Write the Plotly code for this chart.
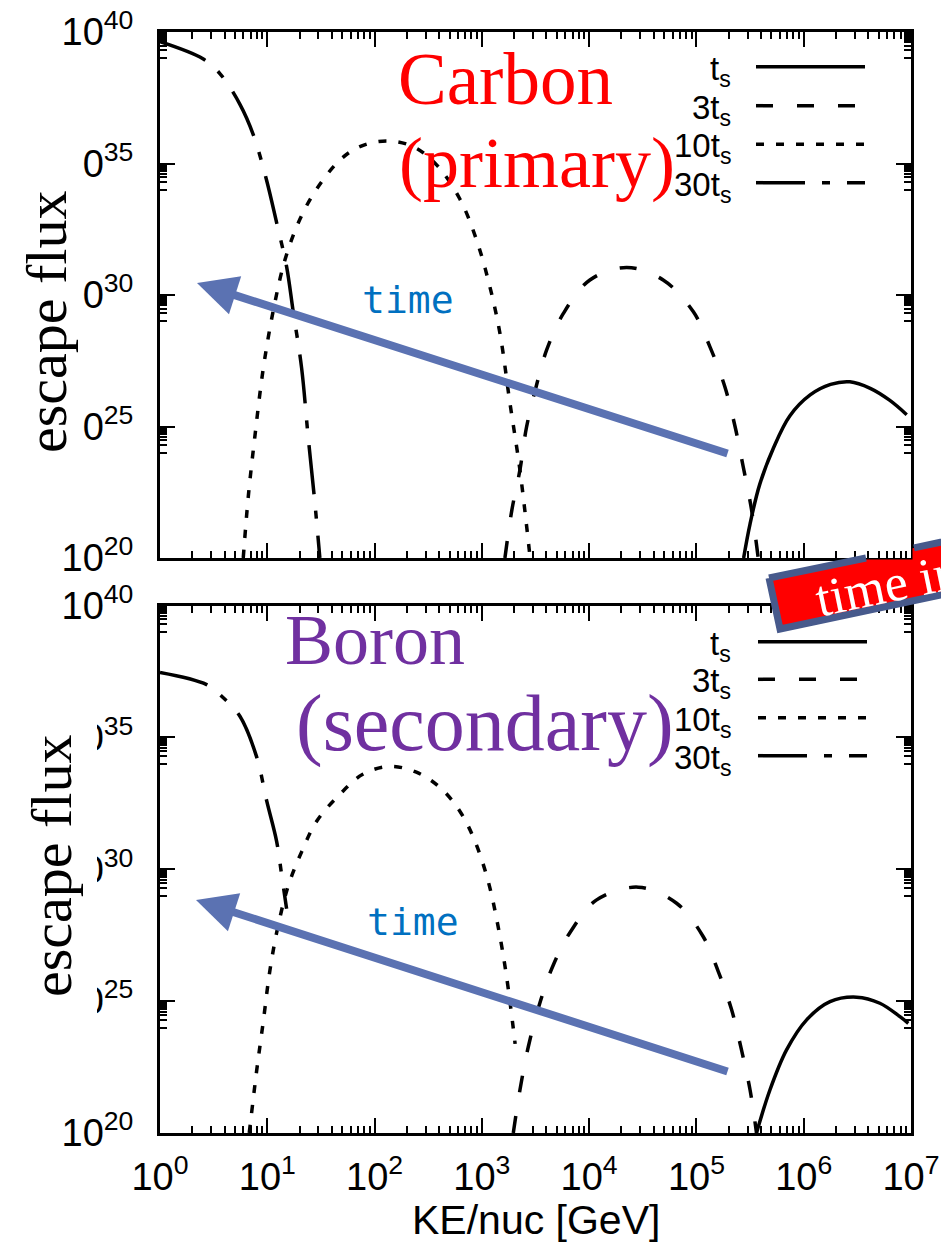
import plotly.graph_objects as go

# ---------------- data (log10 values) ----------------
# Carbon (primary) – top panel
c_ts_logE  = [5.44, 5.50, 5.59, 5.72, 5.87, 6.06, 6.25, 6.43, 6.62, 6.80, 6.96]
c_ts_logF  = [20.0, 21.3, 22.8, 24.2, 25.4, 26.2, 26.6, 26.7, 26.45, 26.0, 25.45]
c_3ts_logE = [3.215, 3.28, 3.355, 3.417, 3.51, 3.604, 3.76, 4.007, 4.35, 4.69, 4.97,
              5.126, 5.265, 5.36, 5.436, 5.514, 5.576]
c_3ts_logF = [20.0, 21.83, 23.35, 24.99, 26.58, 27.91, 29.30, 30.57, 31.05, 30.57, 29.37,
              28.03, 26.51, 25.0, 23.47, 21.83, 20.0]
c_10ts_logE = [0.776, 0.823, 0.885, 0.963, 1.056, 1.165, 1.304, 1.46, 1.677, 1.863, 2.11,
               2.36, 2.58, 2.795, 2.95, 3.075, 3.17, 3.26, 3.354, 3.45]
c_10ts_logF = [20.0, 22.34, 24.65, 27.22, 29.41, 31.34, 32.88, 34.03, 35.13, 35.64, 35.86,
               35.64, 34.94, 33.65, 32.1, 30.31, 28.51, 25.94, 23.37, 20.0]
c_30ts_logE = [0.0, 0.40, 0.56, 0.745, 0.87, 0.99, 1.087, 1.18, 1.24, 1.32, 1.38, 1.444, 1.49]
c_30ts_logF = [39.63, 38.98, 38.41, 37.25, 36.09, 34.42, 32.75, 31.08, 29.41, 27.22, 24.65, 22.08, 20.0]

# Boron (secondary) – bottom panel
b_ts_logE  = [5.56, 5.685, 5.84, 6.027, 6.245, 6.493, 6.71, 6.897, 6.975]
b_ts_logF  = [20.0, 21.63, 23.15, 24.29, 24.98, 25.15, 24.92, 24.41, 24.16]
b_3ts_logE = [3.293, 3.355, 3.433, 3.54, 3.666, 3.837, 4.07, 4.458, 4.815, 5.064, 5.204,
              5.328, 5.42, 5.5, 5.56]
b_3ts_logF = [20.0, 21.63, 23.27, 24.92, 26.37, 27.70, 28.84, 29.32, 28.71, 27.44, 26.12,
              24.67, 23.15, 21.63, 20.0]
b_10ts_logE = [0.832, 0.90, 0.963, 1.025, 1.10, 1.196, 1.32, 1.46, 1.677, 1.894, 2.143,
               2.39, 2.61, 2.795, 2.935, 3.06, 3.15, 3.23, 3.31]
b_10ts_logF = [20.0, 22.33, 24.24, 26.18, 27.84, 29.38, 30.66, 31.82, 32.84, 33.61, 33.9,
               33.68, 33.1, 32.2, 31.07, 29.53, 27.86, 25.94, 23.38]
b_30ts_logE = [0.0, 0.435, 0.59, 0.745, 0.90, 0.994, 1.087, 1.134, 1.18]
b_30ts_logF = [37.46, 37.0, 36.5, 35.8, 34.27, 32.6, 31.06, 29.78, 28.5]

series_names = ["t<sub>s</sub>", "3t<sub>s</sub>", "10t<sub>s</sub>", "30t<sub>s</sub>"]
x_tick_exp = [0, 1, 2, 3, 4, 5, 6, 7]
y_tick_exp = [20, 25, 30, 35, 40]

# ---------------- styling ----------------
W, H = 941, 1250
L, R, T, B = 160, 30, 32, 117
PW, PH = W - L - R, H - T - B

def px(x):
    return (x - L) / PW

def py(y):
    return (H - B - y) / PH

dashes = ["solid", "17px,24px", "8px,12px", "49px,17px,8px,17px"]
LW = 3.5
tickfont = dict(family="Liberation Sans", size=38, color="black")

fig = go.Figure()

top_sets = [(c_ts_logE, c_ts_logF), (c_3ts_logE, c_3ts_logF),
            (c_10ts_logE, c_10ts_logF), (c_30ts_logE, c_30ts_logF)]
bot_sets = [(b_ts_logE, b_ts_logF), (b_3ts_logE, b_3ts_logF),
            (b_10ts_logE, b_10ts_logF), (b_30ts_logE, b_30ts_logF)]

for (le, lf), d, nm in zip(top_sets, dashes, series_names):
    fig.add_trace(go.Scatter(x=[10.0 ** v for v in le], y=[10.0 ** v for v in lf],
                             mode="lines", name=nm, showlegend=False,
                             line=dict(color="black", width=LW, dash=d, shape="spline", smoothing=1.0),
                             xaxis="x", yaxis="y"))
for (le, lf), d, nm in zip(bot_sets, dashes, series_names):
    fig.add_trace(go.Scatter(x=[10.0 ** v for v in le], y=[10.0 ** v for v in lf],
                             mode="lines", name=nm, showlegend=False,
                             line=dict(color="black", width=LW, dash=d, shape="spline", smoothing=1.0),
                             xaxis="x2", yaxis="y2"))

minor_x = [k * 10.0 ** e for e in range(0, 7) for k in range(2, 10)]
minor_y = [k * 10.0 ** (e - 1) for e in (25, 30, 35, 40) for k in range(1, 10)]

axis_common = dict(type="log", showline=True, linecolor="black", linewidth=3,
                   mirror="allticks", ticks="inside", ticklen=15, tickwidth=1.5,
                   tickcolor="black", showgrid=False, zeroline=False, tickfont=tickfont,
                   automargin=False)

xvals = [10.0 ** e for e in x_tick_exp]
xtext = ["10<sup>%d</sup>" % e for e in x_tick_exp]
yvals = [10.0 ** e for e in y_tick_exp]
ytext = ["10<sup>%d</sup>" % e for e in y_tick_exp]

xminor = dict(tickvals=minor_x, ticks="inside", ticklen=7, tickwidth=1.5, tickcolor="black")
yminor = dict(tickvals=minor_y, ticks="inside", ticklen=7, tickwidth=1.5, tickcolor="black")

top_dom = [py(558), 1.0]
bot_dom = [0.0, py(605.5)]

fig.update_layout(
    width=W, height=H,
    margin=dict(l=L, r=R, t=T, b=B, pad=0, autoexpand=False),
    paper_bgcolor="white", plot_bgcolor="white",
    showlegend=False,
    xaxis=dict(axis_common, range=[0, 7], domain=[0, 1], anchor="y",
               tickvals=xvals, ticktext=xtext, showticklabels=False, minor=xminor),
    yaxis=dict(axis_common, range=[20, 40], domain=top_dom, anchor="x",
               tickvals=yvals, ticktext=ytext, ticklabelstandoff=16, minor=yminor),
    xaxis2=dict(axis_common, range=[0, 7], domain=[0, 1], anchor="y2",
                tickvals=xvals, ticktext=xtext, ticklabelstandoff=8, minor=xminor),
    yaxis2=dict(axis_common, range=[20, 40], domain=bot_dom, anchor="x2",
                tickvals=yvals, ticktext=ytext, ticklabelstandoff=16, minor=yminor),
)

shapes = []
# white patches that hide the left part of some y tick labels (as in the original)
shapes.append(dict(type="rect", xref="paper", yref="paper", layer="above",
                   x0=px(0), x1=px(82), y0=py(500), y1=py(110),
                   fillcolor="white", line=dict(width=0)))
shapes.append(dict(type="rect", xref="paper", yref="paper", layer="above",
                   x0=px(0), x1=px(97), y0=py(1075), y1=py(680),
                   fillcolor="white", line=dict(width=0)))

# legend sample lines
top_rows = [66.7, 105.7, 144.3, 182.7]
bot_rows = [641.7, 679.3, 717.7, 755.7]
for rows, x0, x1 in ((top_rows, 756, 865), (bot_rows, 758, 867)):
    for yy, d in zip(rows, dashes):
        shapes.append(dict(type="line", xref="paper", yref="paper", layer="above",
                           x0=px(x0), x1=px(x1), y0=py(yy), y1=py(yy),
                           line=dict(color="black", width=LW, dash=d)))

# red banner ("time in...") partially hidden behind the top panel
def P(x, y):
    return "%.5f,%.5f" % (px(x), py(y))

A = (769, 578); Bp = (780, 629)
u = (0.979, -0.2073)
D = (A[0] + 300 * u[0], A[1] + 300 * u[1])
C = (Bp[0] + 300 * u[0], Bp[1] + 300 * u[1])
E = (858.2, 559.5); F = (912.5, 559.5); G = (912.5, 548.3)
fill_path = "M%s L%s L%s L%s L%s L%s L%s Z" % (P(*A), P(*E), P(*F), P(*G), P(*D), P(*C), P(*Bp))
shapes.append(dict(type="path", xref="paper", yref="paper", layer="above", path=fill_path,
                   fillcolor="#FF0000", line=dict(width=0)))
Ep = (866, 558); Gp = (914, 547.9)
border_path = "M%s L%s M%s L%s M%s L%s L%s" % (P(*A), P(*Ep), P(*Gp), P(*D), P(*A), P(*Bp), P(*C))
shapes.append(dict(type="path", xref="paper", yref="paper", layer="above", path=border_path,
                   fillcolor="rgba(0,0,0,0)", line=dict(color="#475A8C", width=7)))

fig.update_layout(shapes=shapes)

ann = []
serif = "Liberation Serif"
# panel labels
ann.append(dict(text="Carbon", x=px(505), y=py(80), font=dict(family=serif, size=73, color="#FF0000")))
ann.append(dict(text="(primary)", x=px(537), y=py(163), font=dict(family=serif, size=72, color="#FF0000")))
ann.append(dict(text="Boron", x=px(375), y=py(640), font=dict(family=serif, size=72, color="#7030A0")))
ann.append(dict(text="(secondary)", x=px(485), y=py(723), font=dict(family=serif, size=80, color="#7030A0")))
# y titles
ann.append(dict(text="escape flux", x=px(46), y=py(322), textangle=-90,
                font=dict(family=serif, size=58, color="black")))
ann.append(dict(text="escape flux", x=px(51), y=py(866), textangle=-90,
                font=dict(family=serif, size=58, color="black")))
# x title
ann.append(dict(text="KE/nuc [GeV]", x=px(536), y=py(1220),
                font=dict(family="Liberation Sans", size=41, color="black")))
# legend labels
for rows in (top_rows, bot_rows):
    for yy, nm in zip(rows, series_names):
        ann.append(dict(text=nm, x=px(733), y=py(yy + 4), xanchor="right",
                        font=dict(family="Liberation Sans", size=33, color="black")))
# time arrows
arrow_col = "#5B72B2"
for tip, tail, lab in (((197, 283), (729, 454), (408, 300)),
                       ((196, 900), (729, 1072), (413, 922))):
    ann.append(dict(text="", x=px(tip[0]), y=py(tip[1]), ax=tail[0] - tip[0], ay=tail[1] - tip[1],
                    showarrow=True, arrowhead=2, arrowsize=1, arrowwidth=8, arrowcolor=arrow_col))
    ann.append(dict(text="time", x=px(lab[0]), y=py(lab[1]),
                    font=dict(family="DejaVu Sans Mono", size=38, color="#0070C0")))
# banner text
ann.append(dict(text="time increases", x=px(961), y=py(569), textangle=-11.7,
                font=dict(family=serif, size=52, color="white")))

for a in ann:
    a.setdefault("xref", "paper")
    a.setdefault("yref", "paper")
    a.setdefault("showarrow", False)
    a.setdefault("xanchor", "center")
    a.setdefault("yanchor", "middle")
fig.update_layout(annotations=ann)

fig.write_html("out.html")
